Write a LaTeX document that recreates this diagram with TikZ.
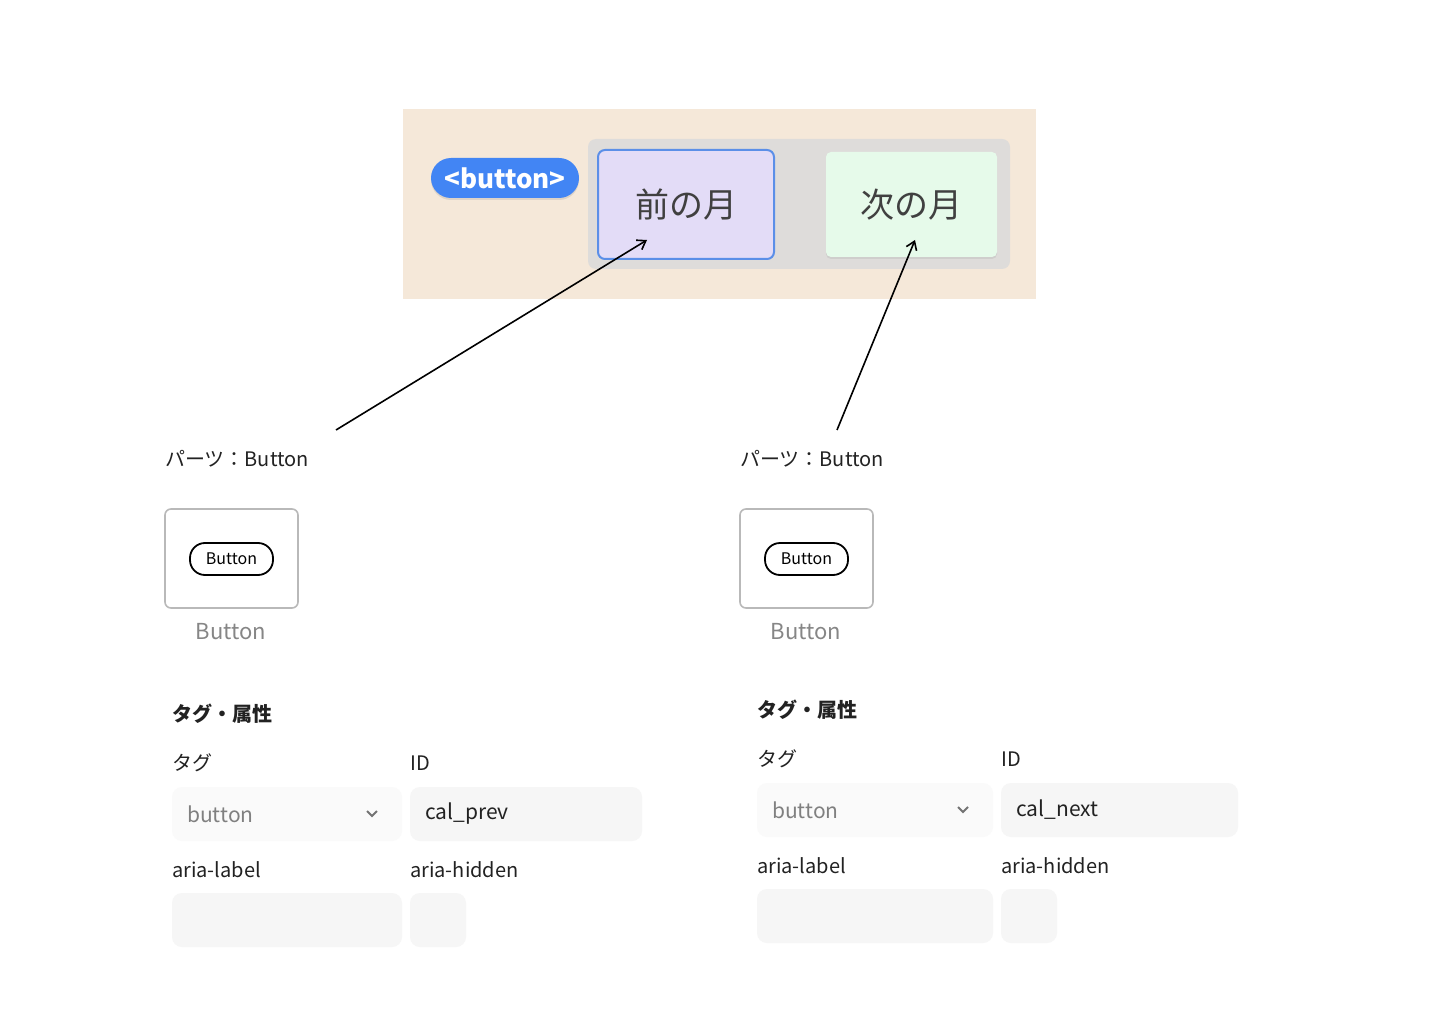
\documentclass[tikz,border=0pt]{standalone}
\usepackage{fontspec}
\setmainfont{Noto Sans CJK JP}
\usetikzlibrary{arrows.meta,shadows}
\definecolor{beige}{HTML}{F5E8D9}
\definecolor{cont}{HTML}{DEDCDA}
\definecolor{lav}{HTML}{E3DCF7}
\definecolor{bord}{HTML}{5B8FE8}
\definecolor{mint}{HTML}{E6FAEA}
\definecolor{pill}{HTML}{4285F4}
\definecolor{fld}{HTML}{F6F6F6}
\definecolor{txt}{HTML}{222222}
\tikzset{
 fs/.style={font=\fontsize{#1}{#1}\selectfont},
 lbl/.style={anchor=west,inner sep=0,text=txt,fs=20},
 field/.style={fill=fld,draw=none,rounded corners=10pt},
 arr/.style={-{Straight Barb[length=8pt,width=11pt]},line width=1.6pt},
}
\newcommand{\propcol}[3]{% x, dy, prefix
 \begin{scope}[shift={(#1,#2)}]
 \node[lbl] (#3ptitle) at (165,459) {パーツ：Button};
 \node[draw=gray!55,line width=1.6pt,rounded corners=6pt,minimum width=133pt,minimum height=99pt] (#3card) at (231.5,558.5) {};
 \node[draw=black,line width=1.8pt,rounded corners=15pt,minimum width=83pt,minimum height=32pt,fs=16,inner sep=0] (#3pill) at (231.5,559) {Button};
 \node[fs=22,text=gray!95,inner sep=0] (#3cap) at (231,632) {Button};
 \end{scope}}
\newcommand{\formcol}[8]{% x0, xid, y0, wsel, wid, prefix, idtext
 \begin{scope}[shift={(0,#3)}]
 \node[lbl,font=\bfseries\fontsize{20}{20}\selectfont] (#6ftitle) at (#1,714) {タグ・属性};
 \node[lbl] (#6tag) at (#1,763) {タグ};
 \node[lbl] (#6id) at (#2,763) {ID};
 \fill[field,fill=fld!60] (#1,787) rectangle ++(#4,54);
 \node[lbl,text=gray,fs=21] (#6sel) at (#1+15,814) {button};
 \draw[line width=1.8pt,gray!90!black] (#1+#4-35,811) -- ++(5,5) -- ++(5,-5);
 \fill[field] (#2,787) rectangle ++(#5,54);
 \node[lbl,fs=21] (#6idv) at (#2+15,814) {#7};
 \node[lbl] (#6al) at (#1,870) {aria-label};
 \node[lbl] (#6ah) at (#2,870) {aria-hidden};
 \fill[field] (#1,893) rectangle ++(#4,54);
 \fill[field] (#2,893) rectangle ++(56,54);
 \end{scope}}
\begin{document}
\begin{tikzpicture}[x=1pt,y=-1pt]
\useasboundingbox (0,0) rectangle (1440,1024);
\fill[white] (0,0) rectangle (1440,1024);
\fill[beige] (403,109) rectangle (1036,299);
\fill[cont,rounded corners=8pt] (588,139) rectangle (1010,269);
\node[fill=pill,text=white,rounded corners=20pt,minimum width=148pt,minimum height=40pt,inner sep=0,font=\bfseries\fontsize{26}{26}\selectfont,drop shadow={opacity=0.2,shadow xshift=0pt,shadow yshift=-2pt}] (tag) at (505,178) {<button>};
\node[fill=lav,draw=bord,line width=2pt,rounded corners=7pt,minimum width=176pt,minimum height=109pt,fs=34,text=black!75] (prev) at (686,204.5) {前の月};
\node[fill=mint,rounded corners=5pt,minimum width=171pt,minimum height=105pt,fs=34,text=black!75,drop shadow={opacity=0.15,shadow xshift=0pt,shadow yshift=-2pt}] (next) at (911.5,204.5) {次の月};
\coordinate (a1) at (336,430);
\coordinate (a2) at (837,430);
\coordinate (t1) at (647,240);
\coordinate (t2) at (915,240);
\draw[arr] (a1) -- (t1);
\draw[arr] (a2) -- (t2);
\propcol{0}{0}{L}
\propcol{575}{0}{R}
\formcol{172}{410}{0}{230}{232}{L}{cal\_prev}{}
\formcol{757}{1001}{-4}{236}{237}{R}{cal\_next}{}
\end{tikzpicture}
\end{document}
